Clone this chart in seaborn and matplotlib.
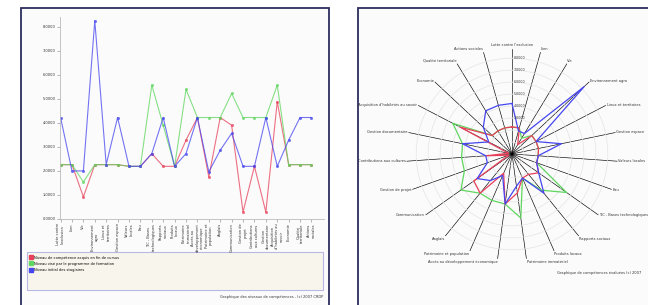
import numpy as np
import pandas as pd
import matplotlib.pyplot as plt
import seaborn as sns
from matplotlib.patches import Rectangle
from matplotlib.lines import Line2D

# competences evaluees (meme ordre pour la courbe et le radar)
categories = [
    "Lutte contre l'exclusion", "Lien", "Vie", "Environnement agro",
    "Lieux et territoires", "Gestion espace",
    "Valeurs locales", "Eau", "TIC - Bases technologiques",
    "Rapports sociaux", "Produits locaux", "Patrimoine immatériel",
    "Accès au développement économique", "Patrimoine et population",
    "Anglais", "Communication", "Gestion de projet",
    "Contributions aux cultures", "Gestion documentaire",
    "Acquisition d'habiletés au savoir", "Economie",
    "Qualité territoriale", "Actions sociales",
]
niveau_atteint = [2.26, 2.26, 0.92, 2.26, 2.26, 2.26, 2.19, 2.19, 2.72, 2.19, 2.19, 3.28,
                  4.22, 1.75, 4.22, 3.90, 0.29, 2.19, 0.29, 4.88, 2.26, 2.26, 2.26]
niveau_vise = [2.26, 2.26, 1.54, 2.26, 2.26, 2.26, 2.19, 2.19, 5.57, 3.90, 2.19, 5.39,
               4.22, 4.22, 4.22, 5.22, 4.22, 4.22, 4.22, 5.57, 2.26, 2.26, 2.26]
niveau_initial = [4.22, 2.00, 2.00, 8.25, 2.26, 4.22, 2.19, 2.19, 2.72, 4.22, 2.19, 2.72,
                  4.22, 1.96, 2.86, 3.56, 2.19, 2.19, 4.22, 2.19, 3.28, 4.22, 4.22]
series_names = ["Niveau de compétence acquis en fin de cursus",
                "Niveau visé par le programme de formation",
                "Niveau initial des stagiaires"]
couleurs = ["#e8405a", "#5fd65f", "#4646f0"]
y_ticks = [0, 1, 2, 3, 4, 5, 6, 7, 8]
r_ticks = [3, 4, 5, 6, 7, 8]

rows = []
for nom, vals in zip(series_names, [niveau_atteint, niveau_vise, niveau_initial]):
    for i, v in enumerate(vals):
        rows.append({"idx": i, "niveau": v, "serie": nom})
df = pd.DataFrame(rows)

W, H = 648, 305
fig = plt.figure(figsize=(W / 100, H / 100), dpi=100)
fs = 2.6

def fmt(v):
    return f"{v:.4f}".replace(".", ",")

def wrap(s, n=14):
    words, lines, cur = s.split(), [], ""
    for w in words:
        if cur and len(cur) + len(w) + 1 > n:
            lines.append(cur)
            cur = w
        else:
            cur = (cur + " " + w).strip()
    lines.append(cur)
    return "\n".join(lines)

# fond : deux panneaux encadres
bg = fig.add_axes([0, 0, 1, 1])
bg.set_xlim(0, W)
bg.set_ylim(H, 0)
bg.axis("off")
for x0, x1 in [(21, 329), (358, 660)]:
    bg.add_patch(Rectangle((x0, 8), x1 - x0, 310, facecolor="#fbfbfb",
                           edgecolor="#2d2d5e", lw=1.3))
bg.add_patch(Rectangle((27, 252), 296, 38, facecolor="#f8f6ec", edgecolor="#b8b8e6", lw=0.8))
bg.text(323, 297, "Graphique des niveaux de compétences - (c) 2007 CRDP",
        fontsize=fs, ha="right", va="center", color="#333333")
bg.text(557, 273, "Graphique de compétences évaluées (c) 2007",
        fontsize=fs, ha="left", va="center", color="#333333")

# courbes
ax = fig.add_axes([60 / W, 1 - 219 / H, (324 - 60) / W, (219 - 17) / H])
ax.set_facecolor("none")
sns.lineplot(data=df, x="idx", y="niveau", hue="serie", palette=couleurs, ax=ax,
             marker="o", markersize=2.2, markeredgewidth=0, lw=0.8, alpha=0.75,
             legend=False, sort=False)
ax.set_xlim(-0.05, 23.1)
ax.set_ylim(0, 8.4)
ax.set_xticks(range(len(categories)))
ax.set_xticklabels([wrap(c) for c in categories], rotation=90, fontsize=fs,
                   va="top", ha="center", color="#333333")
ax.set_yticks(y_ticks)
ax.set_yticklabels([fmt(v) for v in y_ticks], fontsize=fs, color="#333333")
ax.tick_params(length=2, width=0.5, color="#999999", pad=1)
ax.set_xlabel("")
ax.set_ylabel("")
for s in ["top", "right"]:
    ax.spines[s].set_visible(False)
for s in ["left", "bottom"]:
    ax.spines[s].set_color("#bbbbbb")
    ax.spines[s].set_linewidth(0.6)

handles = [Line2D([], [], marker="s", ls="", color=c, markersize=3) for c in couleurs]
fig.legend(handles, series_names, loc="upper left", bbox_to_anchor=(27 / W, 1 - 253 / H),
           frameon=False, fontsize=fs, handlelength=0.8, handletextpad=0.4,
           labelspacing=0.6, borderpad=0.2)

# radar
cx, cy, R = 512, 154, 103
axr = fig.add_axes([(cx - R) / W, (H - cy - R) / H, 2 * R / W, 2 * R / H], projection="polar")
axr.set_facecolor("none")
axr.set_theta_zero_location("N")
axr.set_theta_direction(-1)
n = len(categories)
theta = np.arange(n) * 2 * np.pi / n
for nom, vals, c in zip(series_names, [niveau_vise, niveau_atteint, niveau_initial],
                        [couleurs[1], couleurs[0], couleurs[2]]):
    sns.lineplot(x=np.append(theta, theta[0]), y=np.append(vals, vals[0]), ax=axr,
                 sort=False, color=c, lw=0.9, estimator=None)
axr.set_rlim(0, 8.6)
axr.set_xticks([])
axr.set_yticks(range(1, 9))
axr.set_yticklabels([])
axr.grid(color="#e4e4e4", lw=0.5)
axr.spines["polar"].set_visible(False)
axr.set_xlabel("")
axr.set_ylabel("")
for t, lab in zip(theta, categories):
    axr.plot([t, t], [0, 8.8], color="black", lw=0.45, clip_on=False, zorder=1)
    s, c = np.sin(t), np.cos(t)
    if abs(s) < 0.05:
        ha = "center"
    else:
        ha = "left" if s > 0 else "right"
    va = "bottom" if c > 0.7 else ("top" if c < -0.7 else "center")
    axr.annotate(lab, (t, 8.9), fontsize=fs, ha=ha, va=va, annotation_clip=False,
                 color="#333333")
for r in r_ticks:
    axr.annotate(fmt(r), (0, r), xytext=(1, 0), textcoords="offset points",
                 fontsize=fs - 0.3, ha="left", va="center", color="#333333")

fig.savefig("out.png", dpi=100)
